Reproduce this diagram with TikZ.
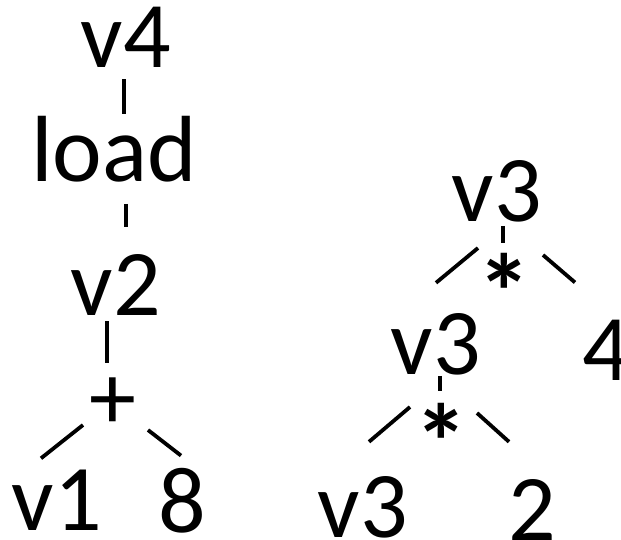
\documentclass[tikz,border=0pt]{standalone}
\usepackage{fontspec}
\setmainfont{Carlito}
\usetikzlibrary{calc}
\tikzset{
  treeLabel/.style={inner sep=0pt, anchor=base, font=\fontsize{94}{100}\selectfont},
  opNode/.style={inner sep=0pt, anchor=north, font=\fontsize{94}{100}\selectfont},
  starNode/.style={opNode, font=\fontsize{108}{110}\selectfont\bfseries},
  treeEdge/.style={line width=3.8pt, color=black}
}
\begin{document}
\begin{tikzpicture}[x=1pt, y=-1pt]
  \useasboundingbox (0,0) rectangle (621,540);
  % left tree
  \node[treeLabel] (v4) at (126,68) {v4};
  \node[treeLabel] (load) at (114,182) {load};
  \node[treeLabel] (v2) at (116,315) {v2};
  \node[opNode] (plus) at (113,378) {+};
  \node[treeLabel] (v1) at (57,530) {v1};
  \node[treeLabel] (eight) at (182,532) {8};
  \draw[treeEdge] ($(v4.south)+(-2,11)$) -- ($(v4.south |- load.north)+(-2,-3)$);
  \draw[treeEdge] ($(load.south)+(12,21)$) -- ($(load.south |- v2.north)+(12,-27)$);
  \draw[treeEdge] ($(v2.south)+(-9,6)$) -- ($(v2.south |- plus.north)+(-9,-15)$);
  \draw[treeEdge] ($(plus.north)+(-30,47)$) -- ($(v1.north)+(-16,-11)$);
  \draw[treeEdge] ($(plus.north)+(35,52)$) -- ($(eight.north)+(-1,-12)$);
  % right tree
  \node[treeLabel] (v3a) at (497,222) {v3};
  \node[starNode] (stara) at (504,253) {*};
  \node[treeLabel] (v3b) at (436,374) {v3};
  \node[treeLabel] (four) at (606,380) {4};
  \node[starNode] (starb) at (441,403) {*};
  \node[treeLabel] (v3c) at (363,537) {v3};
  \node[treeLabel] (two) at (532,540) {2};
  \draw[treeEdge] ($(v3a.south)+(6,3)$) -- ($(v3a.south |- stara.north)+(6,-10)$);
  \draw[treeEdge] ($(stara.north)+(-26,-5)$) -- ($(v3b.north)+(0,-30)$);
  \draw[treeEdge] ($(stara.north)+(39,2)$) -- ($(four.north)+(-31,-37)$);
  \draw[treeEdge] ($(v3b.south)+(4,1)$) -- ($(v3b.south |- starb.north)+(4,-12)$);
  \draw[treeEdge] ($(starb.north)+(-31,4)$) -- ($(v3c.north)+(6,-34)$);
  \draw[treeEdge] ($(starb.north)+(36,10)$) -- ($(two.north)+(-23,-37)$);
\end{tikzpicture}
\end{document}
